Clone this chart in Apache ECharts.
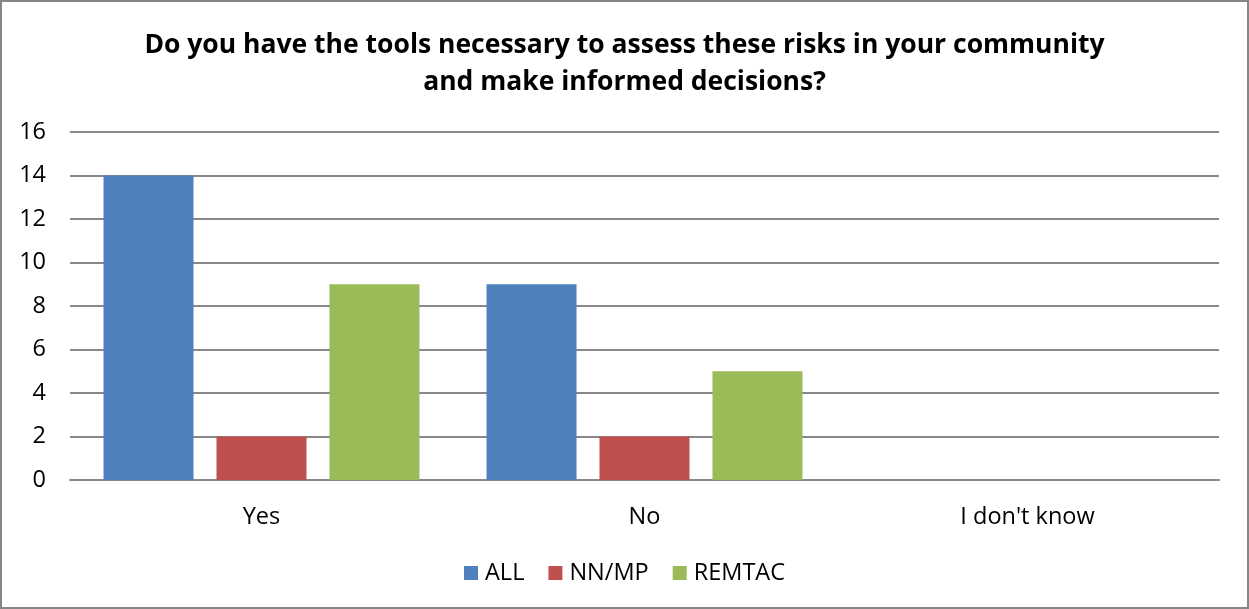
<!DOCTYPE html>
<html><head><meta charset="utf-8">
<script src="https://cdn.jsdelivr.net/npm/echarts@6/dist/echarts.min.js"></script>
<style>html,body{margin:0;padding:0;background:#fff}#c{width:1249px;height:609px;box-sizing:border-box;border:2px solid #868686}</style>
</head><body><div id="c"></div>
<script>
const categories = ["Yes", "No", "I don't know"];
const seriesNames = ["ALL", "NN/MP", "REMTAC"];
const allValues = [14, 9, 0];
const nnmpValues = [2, 2, 0];
const remtacValues = [9, 5, 0];
const colors = ["#4F81BD", "#C0504D", "#9BBB59"];
const FONT = "Open Sans";
const chart = echarts.init(document.getElementById('c'), null, {renderer:'canvas'});
chart.setOption({
  animation:false,
  textStyle:{fontFamily:FONT},
  title:{
    text:"Do you have the tools necessary to assess these risks in your community\nand make informed decisions?",
    left:'center', top:20,
    textStyle:{fontFamily:FONT, fontSize:26.5, fontWeight:'bold', color:'#000', lineHeight:37}
  },
  legend:{
    bottom:17, left:'center', itemWidth:14, itemHeight:14, itemGap:24, icon:'rect',
    textStyle:{fontFamily:FONT, fontSize:23.5, color:'#000', padding:[0,0,0,2]},
    data:seriesNames
  },
  grid:{left:68, right:28, top:130, bottom:127, containLabel:false},
  xAxis:{
    type:'category', data:categories,
    axisLine:{lineStyle:{color:'#888', width:2}},
    axisTick:{show:false},
    axisLabel:{fontFamily:FONT, fontSize:23.5, color:'#000', margin:25}
  },
  yAxis:{
    type:'value', min:0, max:16, interval:2,
    axisLine:{show:false}, axisTick:{show:false},
    splitLine:{lineStyle:{color:'#888', width:2}},
    axisLabel:{fontFamily:FONT, fontSize:23.5, color:'#000', margin:24}
  },
  series:[
    {name:seriesNames[0], type:'bar', data:allValues, itemStyle:{color:colors[0]}, barGap:'25.5%', barCategoryGap:'17.5%'},
    {name:seriesNames[1], type:'bar', data:nnmpValues, itemStyle:{color:colors[1]}},
    {name:seriesNames[2], type:'bar', data:remtacValues, itemStyle:{color:colors[2]}}
  ]
});
</script></body></html>
